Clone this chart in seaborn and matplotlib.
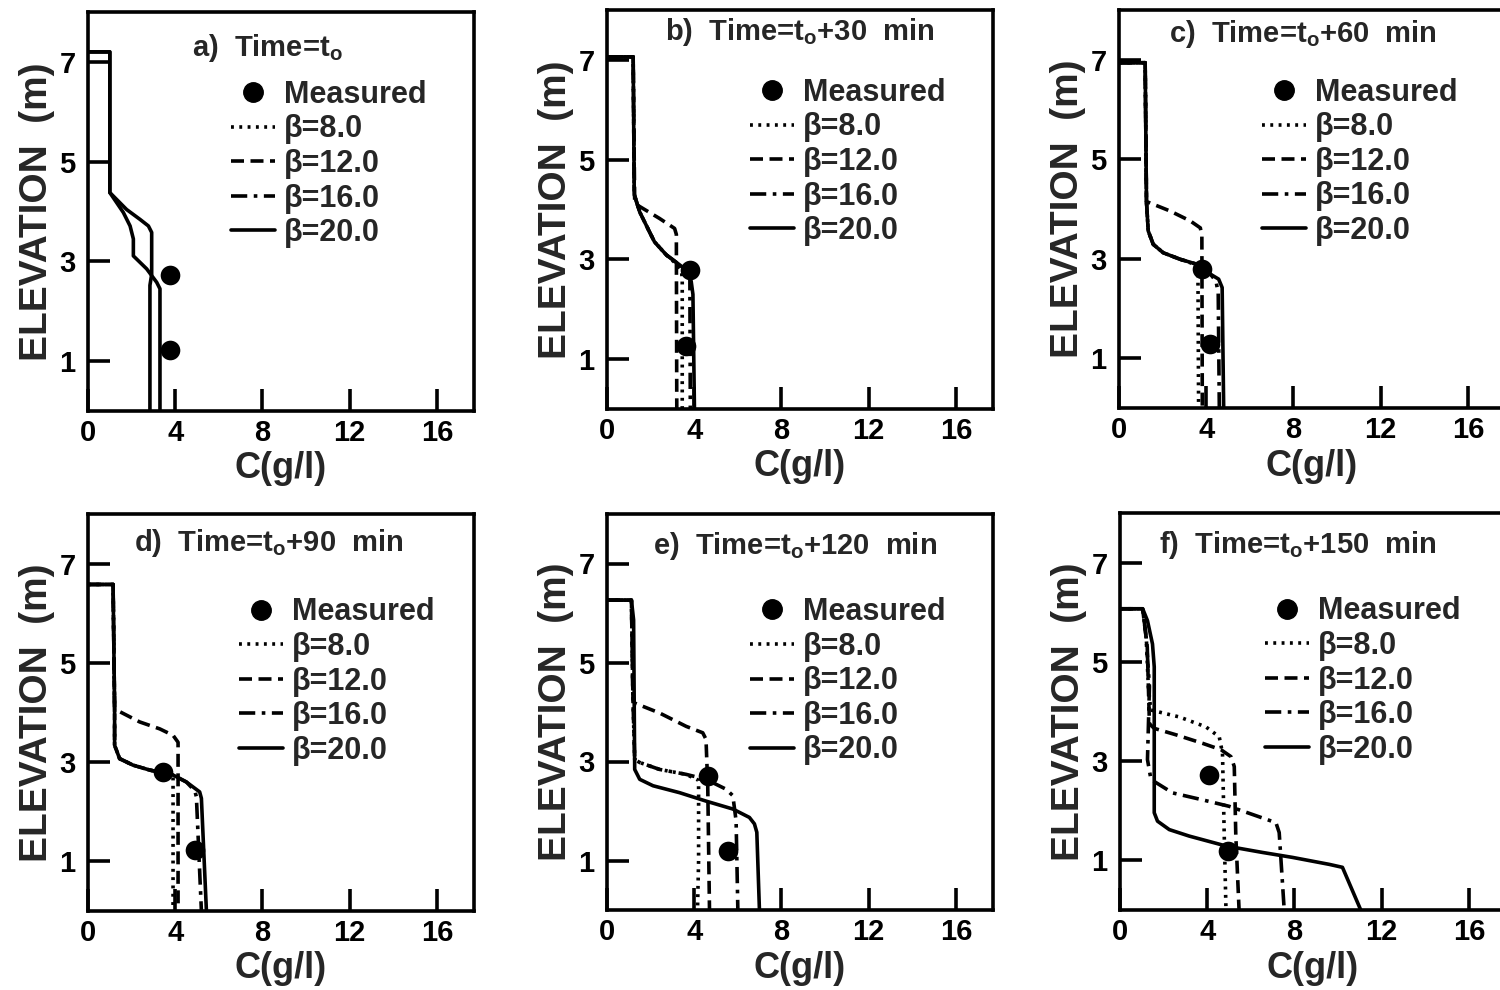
import matplotlib
matplotlib.use("Agg")
import matplotlib.pyplot as plt
from matplotlib.lines import Line2D
import seaborn as sns

# ---------------- data ----------------
# Panel a (time = t0): two simulated profiles
A_LINE1_C = [0, 1.0, 1.0, 1.77, 2.39, 2.77, 2.92, 2.92, 2.84, 2.84]
A_LINE1_E = [7.2, 7.2, 4.38, 4.04, 3.84, 3.71, 3.58, 2.74, 2.52, 0]
A_LINE2_C = [0, 1.0, 1.0, 1.62, 1.93, 2.08, 2.08, 2.69, 3.15, 3.30, 3.30]
A_LINE2_E = [7.2, 7.2, 4.38, 3.98, 3.71, 3.45, 3.11, 2.85, 2.58, 2.45, 0]
A_MEAS_C = [3.76, 3.76]
A_MEAS_E = [2.72, 1.22]

# Panel b (t0 + 30 min)
B_B8_C = [0, 1.2, 1.25, 1.5, 1.95, 2.18, 2.72, 3.2, 3.42, 3.45, 3.45]
B_B8_E = [7.06, 7.06, 4.3, 3.95, 3.55, 3.35, 3.09, 2.9, 2.75, 2.6, 0]
B_B12_C = [0, 1.2, 1.27, 2.41, 3.1, 3.18, 3.2]
B_B12_E = [7.06, 7.06, 4.12, 3.82, 3.62, 3.5, 0]
B_B16_C = [0, 1.2, 1.25, 1.5, 1.95, 2.18, 2.72, 3.33, 3.68, 3.8, 3.82]
B_B16_E = [7.06, 7.06, 4.3, 3.95, 3.55, 3.35, 3.09, 2.89, 2.76, 2.6, 0]
B_B20_C = [0, 1.2, 1.25, 1.5, 1.95, 2.18, 2.72, 3.33, 3.71, 3.86, 3.94, 4.01]
B_B20_E = [7.06, 7.06, 4.3, 3.95, 3.55, 3.35, 3.09, 2.89, 2.76, 2.56, 2.3, 0]
B_MEAS_C = [3.79, 3.63]
B_MEAS_E = [2.79, 1.27]

# Panel c (t0 + 60 min)
C_B8_C = [0, 1.2, 1.26, 1.34, 1.57, 2.03, 2.8, 3.4, 3.62, 3.65]
C_B8_E = [6.94, 6.94, 4.15, 3.56, 3.29, 3.12, 2.99, 2.9, 2.75, 0]
C_B12_C = [0, 1.2, 1.26, 2.34, 3.27, 3.73, 3.8, 3.82]
C_B12_E = [6.94, 6.94, 4.15, 3.96, 3.76, 3.62, 3.45, 0]
C_B16_C = [0, 1.2, 1.26, 1.34, 1.57, 2.03, 2.8, 3.57, 4.19, 4.45, 4.55, 4.6]
C_B16_E = [6.94, 6.94, 4.15, 3.56, 3.29, 3.12, 2.99, 2.89, 2.69, 2.55, 2.3, 0]
C_B20_C = [0, 1.2, 1.26, 1.34, 1.57, 2.03, 2.8, 3.57, 4.19, 4.57, 4.73, 4.8]
C_B20_E = [6.94, 6.94, 4.15, 3.56, 3.29, 3.12, 2.99, 2.89, 2.69, 2.59, 2.42, 0]
C_MEAS_C = [3.81, 4.19]
C_MEAS_E = [2.79, 1.28]

# Panel d (t0 + 90 min)
D_B8_C = [0, 1.15, 1.22, 1.22, 1.45, 2.06, 2.83, 3.5, 3.9, 3.9]
D_B8_E = [6.58, 6.58, 4.07, 3.34, 3.07, 2.94, 2.84, 2.78, 2.7, 0]
D_B12_C = [0, 1.15, 1.22, 2.37, 3.29, 3.9, 4.13, 4.13]
D_B12_E = [6.58, 6.58, 4.07, 3.81, 3.67, 3.54, 3.4, 0]
D_B16_C = [0, 1.15, 1.22, 1.22, 1.45, 2.06, 2.83, 3.9, 4.51, 4.9, 4.97, 5.2]
D_B16_E = [6.58, 6.58, 4.07, 3.34, 3.07, 2.94, 2.84, 2.74, 2.6, 2.42, 2.3, 0]
D_B20_C = [0, 1.15, 1.22, 1.22, 1.45, 2.06, 2.83, 3.9, 4.51, 5.12, 5.2, 5.43]
D_B20_E = [6.58, 6.58, 4.07, 3.34, 3.07, 2.94, 2.84, 2.74, 2.6, 2.4, 2.27, 0]
D_MEAS_C = [3.44, 4.9]
D_MEAS_E = [2.8, 1.23]

# Panel e (t0 + 120 min)
E_B8_C = [0, 1.12, 1.19, 1.27, 1.5, 2.41, 3.63, 4.2, 4.2, 4.15]
E_B8_E = [6.26, 6.26, 4.25, 3.04, 2.98, 2.84, 2.74, 2.62, 1.0, 0]
E_B12_C = [0, 1.12, 1.19, 1.27, 2.41, 3.63, 4.39, 4.54, 4.62, 4.7]
E_B12_E = [6.26, 6.26, 4.25, 4.18, 3.98, 3.71, 3.58, 3.45, 2.5, 0]
E_B16_C = [0, 1.12, 1.19, 1.27, 1.5, 2.41, 3.63, 4.54, 5.46, 5.77, 5.92, 6.0]
E_B16_E = [6.26, 6.26, 4.25, 3.04, 2.98, 2.84, 2.74, 2.64, 2.44, 2.31, 1.8, 0]
E_B20_C = [0, 1.12, 1.22, 1.27, 1.5, 2.11, 3.33, 4.54, 5.77, 6.53, 6.76, 6.87, 6.99]
E_B20_E = [6.26, 6.26, 5.86, 2.84, 2.64, 2.51, 2.37, 2.2, 2.04, 1.87, 1.74, 1.57, 0]
E_MEAS_C = [4.62, 5.54]
E_MEAS_E = [2.71, 1.2]

# Panel f (t0 + 150 min)
F_B8_C = [0, 1.04, 1.2, 1.3, 1.41, 2.72, 3.94, 4.55, 4.7, 4.78, 4.86]
F_B8_E = [6.07, 6.07, 5.5, 4.5, 4.03, 3.89, 3.69, 3.49, 3.16, 1.5, 0]
F_B12_C = [0, 1.04, 1.25, 1.35, 1.57, 2.57, 3.78, 4.63, 5.09, 5.24, 5.31, 5.46]
F_B12_E = [6.07, 6.07, 5.3, 3.75, 3.66, 3.53, 3.36, 3.23, 3.09, 2.89, 1.5, 0]
F_B16_C = [0, 1.04, 1.2, 1.35, 1.26, 1.42, 2.41, 3.78, 5.0, 7.15, 7.3, 7.53]
F_B16_E = [6.07, 6.07, 5.5, 4.5, 3.03, 2.63, 2.36, 2.22, 2.09, 1.76, 1.56, 0]
F_B20_C = [0, 1.04, 1.26, 1.49, 1.57, 1.57, 1.72, 2.26, 3.17, 4.86, 6.53, 7.91, 9.59, 10.2, 11.04]
F_B20_E = [6.07, 6.07, 5.83, 5.36, 4.9, 1.96, 1.79, 1.62, 1.49, 1.29, 1.16, 1.06, 0.92, 0.86, 0]
F_MEAS_C = [4.09, 4.93]
F_MEAS_E = [2.73, 1.19]

PANEL_TITLES = ["a)  Time=t$_o$", "b)  Time=t$_o$+30  min", "c)  Time=t$_o$+60  min",
                "d)  Time=t$_o$+90  min", "e)  Time=t$_o$+120  min", "f)  Time=t$_o$+150  min"]
LEGEND_LABELS = ["Measured", "\u03b2=8.0", "\u03b2=12.0", "\u03b2=16.0", "\u03b2=20.0"]
X_TICKS = [0, 4, 8, 12, 16]
Y_TICKS = [1, 3, 5, 7]

# ---------------- style ----------------
sns.set_style("white")
plt.rcParams['font.family'] = ['Liberation Sans', 'DejaVu Sans']
plt.rcParams['font.weight'] = 'bold'
plt.rcParams['mathtext.fontset'] = 'custom'
plt.rcParams['mathtext.bf'] = 'Liberation Sans:bold'
plt.rcParams['mathtext.rm'] = 'Liberation Sans:bold'
plt.rcParams['mathtext.default'] = 'bf'

LW = 2.6
STYLES = {
    8: (0, (0.8, 1.5)),
    12: (0, (3.6, 1.8)),
    16: (0, (4.5, 1.8, 1.0, 1.8)),
    20: '-',
}

W, H = 1500, 990
fig = plt.figure(figsize=(15, 9.9), dpi=100)

# axes boxes in pixels: left, top, width, height
BOXES = [(88, 12, 386, 399), (607, 10, 386, 399), (1119, 10, 386, 398),
         (88, 514, 386, 397), (607, 514, 386, 396), (1120, 513, 386, 397)]
TITLE_POS = [(0.27, 0.91), (0.15, 0.945), (0.13, 0.94), (0.12, 0.927), (0.12, 0.92), (0.10, 0.92)]
LEG_POS = [(0.37, 0.83), (0.37, 0.83), (0.37, 0.83), (0.39, 0.79), (0.37, 0.79), (0.375, 0.79)]

panel_lines = [
    [(A_LINE1_C, A_LINE1_E, '-'), (A_LINE2_C, A_LINE2_E, '-')],
    [(B_B8_C, B_B8_E, STYLES[8]), (B_B12_C, B_B12_E, STYLES[12]),
     (B_B16_C, B_B16_E, STYLES[16]), (B_B20_C, B_B20_E, STYLES[20])],
    [(C_B8_C, C_B8_E, STYLES[8]), (C_B12_C, C_B12_E, STYLES[12]),
     (C_B16_C, C_B16_E, STYLES[16]), (C_B20_C, C_B20_E, STYLES[20])],
    [(D_B8_C, D_B8_E, STYLES[8]), (D_B12_C, D_B12_E, STYLES[12]),
     (D_B16_C, D_B16_E, STYLES[16]), (D_B20_C, D_B20_E, STYLES[20])],
    [(E_B8_C, E_B8_E, STYLES[8]), (E_B12_C, E_B12_E, STYLES[12]),
     (E_B16_C, E_B16_E, STYLES[16]), (E_B20_C, E_B20_E, STYLES[20])],
    [(F_B8_C, F_B8_E, STYLES[8]), (F_B12_C, F_B12_E, STYLES[12]),
     (F_B16_C, F_B16_E, STYLES[16]), (F_B20_C, F_B20_E, STYLES[20])],
]
panel_meas = [(A_MEAS_C, A_MEAS_E), (B_MEAS_C, B_MEAS_E), (C_MEAS_C, C_MEAS_E),
              (D_MEAS_C, D_MEAS_E), (E_MEAS_C, E_MEAS_E), (F_MEAS_C, F_MEAS_E)]

for i in range(6):
    l, t, w, h = BOXES[i]
    ax = fig.add_axes([l / W, 1 - (t + h) / H, w / W, h / H])
    ax.set_facecolor('white')
    for cs, es, ls in panel_lines[i]:
        sns.lineplot(x=cs, y=es, sort=False, estimator=None, color='black',
                     linewidth=LW, linestyle=ls, ax=ax, legend=False)
    mc, me = panel_meas[i]
    sns.scatterplot(x=mc, y=me, s=200, color='black', edgecolor='black',
                    linewidth=0, ax=ax, legend=False, zorder=5)

    ax.set_xlim(0, 17.7)
    ax.set_ylim(0, 8)
    ax.set_xticks(X_TICKS)
    ax.set_yticks(Y_TICKS)
    ax.tick_params(bottom=True, left=True, top=False, right=False,
                   direction='in', length=16, width=2.6, labelsize=21, pad=6,
                   color='black', labelcolor='black')
    ax.tick_params(axis='y', pad=9)
    for lab in ax.get_xticklabels() + ax.get_yticklabels():
        lab.set_fontweight('bold')
    for sp in ax.spines.values():
        sp.set_visible(True)
        sp.set_linewidth(2.6)
        sp.set_color('black')
    ax.set_xlabel("C(g/l)", fontsize=26, fontweight='bold', labelpad=3)
    ax.set_ylabel("ELEVATION  (m)", fontsize=28, fontweight='bold', labelpad=3)

    tx, ty = TITLE_POS[i]
    ax.text(tx, ty, PANEL_TITLES[i], transform=ax.transAxes, fontsize=21,
            fontweight='bold', ha='left', va='center')

    handles = [Line2D([0], [0], marker='o', color='black', ls='none', markersize=14),
               Line2D([0], [0], color='black', lw=LW, ls=STYLES[8]),
               Line2D([0], [0], color='black', lw=LW, ls=STYLES[12]),
               Line2D([0], [0], color='black', lw=LW, ls=STYLES[16]),
               Line2D([0], [0], color='black', lw=LW, ls=STYLES[20])]
    lx, ly = LEG_POS[i]
    ax.legend(handles, LEGEND_LABELS, loc='upper left', bbox_to_anchor=(lx, ly),
              frameon=False, handlelength=1.45, handletextpad=0.3,
              labelspacing=0.15, borderpad=0, borderaxespad=0, numpoints=1,
              prop={'weight': 'bold', 'size': 22})

fig.savefig("out.png", dpi=100, facecolor='white')
